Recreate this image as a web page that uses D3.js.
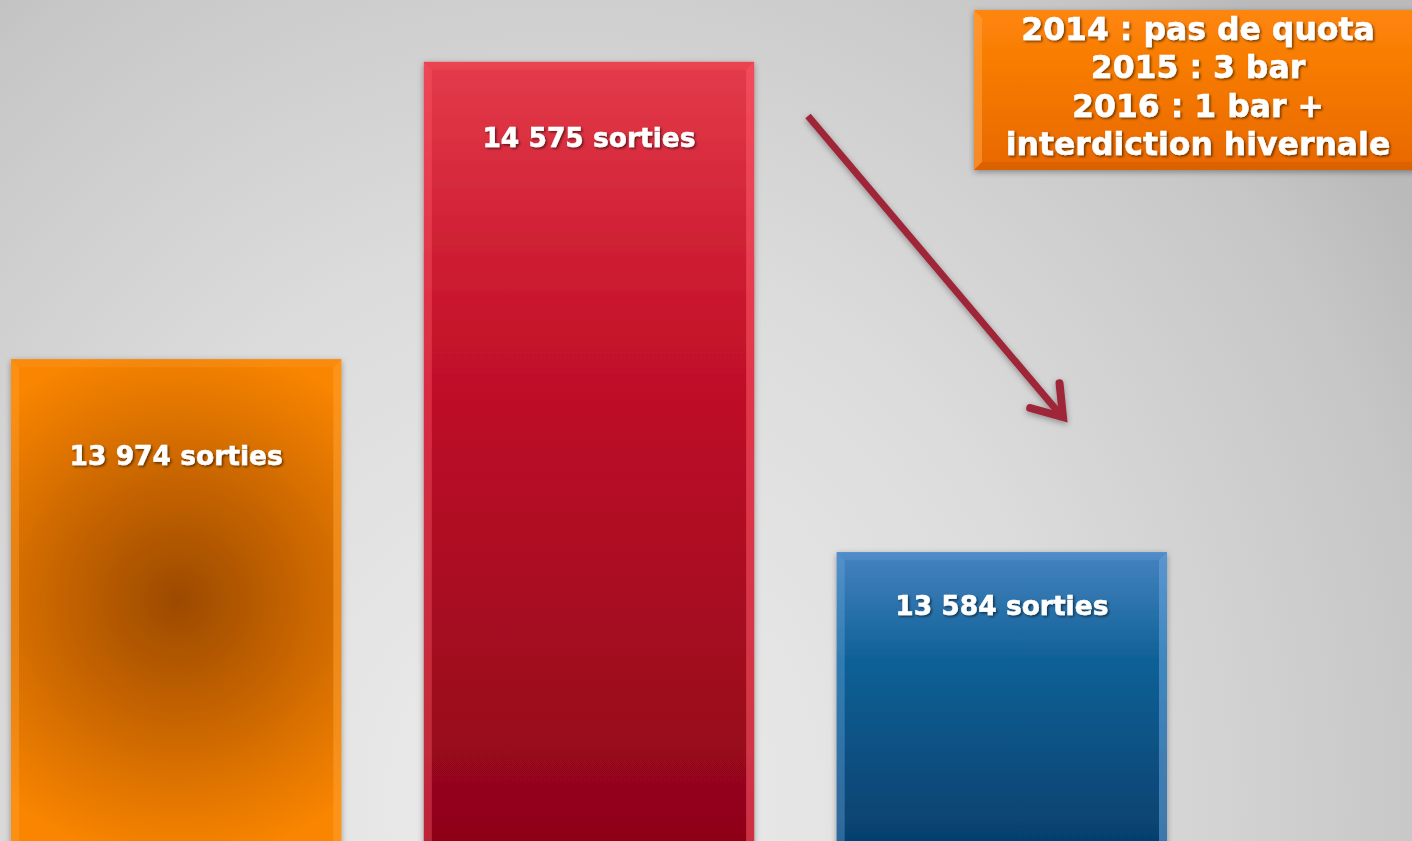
<!DOCTYPE html>
<html>
<head>
<meta charset="utf-8">
<script src="https://cdn.jsdelivr.net/npm/d3@7"></script>
<style>
  html, body { margin: 0; padding: 0; overflow: hidden; }
  #viz { width: 1412px; height: 841px; }
  text { font-family: "DejaVu Sans", Verdana, sans-serif; font-weight: bold; fill: #fff; stroke: #fff; stroke-width: 0.5px; }
</style>
</head>
<body>
<div id="viz"></div>
<script>
// data
const years = ['2014', '2015', '2016'];
const sorties = [13974, 14575, 13584];
const noteLines = ['2014 : pas de quota', '2015 : 3 bar', '2016 : 1 bar +', 'interdiction hivernale'];

const width = 1412, height = 841;
const fmt = v => d3.format(',')(v).replace(',', ' ') + ' sorties';

const svg = d3.select('#viz').append('svg')
  .attr('width', width).attr('height', height)
  .attr('role', 'img')
  .attr('aria-label', 'Nombre de sorties par année');

const defs = svg.append('defs');

// background
const bg = defs.append('radialGradient').attr('id', 'bg')
  .attr('gradientUnits', 'userSpaceOnUse')
  .attr('cx', 560).attr('cy', 800).attr('r', 1000)
  .attr('gradientTransform', 'translate(560,800) scale(1,1.1) translate(-560,-800)');
bg.append('stop').attr('offset', '0%').attr('stop-color', '#ededed');
bg.append('stop').attr('offset', '50%').attr('stop-color', '#dcdcdc');
bg.append('stop').attr('offset', '88%').attr('stop-color', '#c6c6c6');
bg.append('stop').attr('offset', '100%').attr('stop-color', '#bababa');
svg.append('rect').attr('width', width).attr('height', height).attr('fill', 'url(#bg)');

// shadows
const sh = defs.append('filter').attr('id', 'shadow').attr('x', '-10%').attr('y', '-10%').attr('width', '120%').attr('height', '120%');
sh.append('feDropShadow').attr('dx', 0).attr('dy', 2).attr('stdDeviation', 3).attr('flood-color', '#000').attr('flood-opacity', 0.35);
const tsh = defs.append('filter').attr('id', 'tshadow');
tsh.append('feDropShadow').attr('dx', 1.5).attr('dy', 1.5).attr('stdDeviation', 0.8).attr('flood-color', '#000').attr('flood-opacity', 0.55);

// bar gradients
const orangeG = defs.append('radialGradient').attr('id', 'g0')
  .attr('gradientUnits', 'userSpaceOnUse').attr('cx', 178).attr('cy', 600).attr('r', 260);
orangeG.append('stop').attr('offset', '0%').attr('stop-color', '#9c4a00');
orangeG.append('stop').attr('offset', '40%').attr('stop-color', '#c06000');
orangeG.append('stop').attr('offset', '100%').attr('stop-color', '#f98500');

const redG = defs.append('linearGradient').attr('id', 'g1').attr('x1', 0).attr('y1', 0).attr('x2', 0).attr('y2', 1);
redG.append('stop').attr('offset', '0%').attr('stop-color', '#e43b4a');
redG.append('stop').attr('offset', '35%').attr('stop-color', '#c4122a');
redG.append('stop').attr('offset', '100%').attr('stop-color', '#8c0418');

const blueG = defs.append('linearGradient').attr('id', 'g2').attr('x1', 0).attr('y1', 0).attr('x2', 0).attr('y2', 1);
blueG.append('stop').attr('offset', '0%').attr('stop-color', '#4683c0');
blueG.append('stop').attr('offset', '35%').attr('stop-color', '#0f6197');
blueG.append('stop').attr('offset', '100%').attr('stop-color', '#053d6a');

const bevelLight = ['#ffa030', '#ff5a68', '#6aa6de'];

const x = d3.scaleBand().domain(years).range([11, 1167]).paddingInner(0.2).paddingOuter(0);
const y = d3.scaleLinear().domain([13000, 14700]).range([841, 0]);

const labelDy = [106, 85, 63];
const bev = 8;

const bars = svg.append('g').selectAll('g').data(years).join('g');

bars.append('rect')
  .attr('x', d => x(d)).attr('y', (d, i) => y(sorties[i]))
  .attr('width', x.bandwidth()).attr('height', (d, i) => height + 20 - y(sorties[i]))
  .attr('fill', (d, i) => `url(#g${i})`)
  .attr('filter', 'url(#shadow)');

// bevel edges
bars.each(function (d, i) {
  const g = d3.select(this);
  const x0 = x(d), x1 = x(d) + x.bandwidth(), y0 = y(sorties[i]), y1 = height + 20;
  g.append('polygon')
    .attr('points', [[x0, y0], [x0 + bev, y0 + bev], [x0 + bev, y1], [x0, y1]].join(' '))
    .attr('fill', bevelLight[i]).attr('opacity', 0.4);
  g.append('polygon')
    .attr('points', [[x1, y0], [x1 - bev, y0 + bev], [x1 - bev, y1], [x1, y1]].join(' '))
    .attr('fill', bevelLight[i]).attr('opacity', 0.55);
  g.append('polygon')
    .attr('points', [[x0, y0], [x1, y0], [x1 - bev, y0 + bev], [x0 + bev, y0 + bev]].join(' '))
    .attr('fill', bevelLight[i]).attr('opacity', 0.25);
});

bars.append('text')
  .attr('x', d => x(d) + x.bandwidth() / 2)
  .attr('y', (d, i) => y(sorties[i]) + labelDy[i])
  .attr('text-anchor', 'middle')
  .attr('font-size', 26.5)
  .attr('filter', 'url(#tshadow)')
  .text((d, i) => fmt(sorties[i]));

// arrow
const a0 = [808, 116], a1 = [1063, 417];
const ang = Math.atan2(a1[1] - a0[1], a1[0] - a0[0]);
const armLen = 34, spread = 0.6;
const arm = s => [a1[0] - armLen * Math.cos(ang + s), a1[1] - armLen * Math.sin(ang + s)];
const arrow = svg.append('g').attr('filter', 'url(#shadow)')
  .attr('stroke', '#9e2739').attr('stroke-width', 7).attr('fill', 'none');
arrow.append('line').attr('x1', a0[0]).attr('y1', a0[1]).attr('x2', a1[0] - 4).attr('y2', a1[1] - 4);
arrow.append('path')
  .attr('d', d3.line()([arm(spread), a1, arm(-spread)]))
  .attr('stroke-width', 8)
  .attr('stroke-linejoin', 'miter').attr('stroke-linecap', 'round');

// note box
const boxG = defs.append('linearGradient').attr('id', 'box').attr('x1', 0).attr('y1', 0).attr('x2', 0).attr('y2', 1);
boxG.append('stop').attr('offset', '0%').attr('stop-color', '#ff8608');
boxG.append('stop').attr('offset', '100%').attr('stop-color', '#e86800');
const note = svg.append('g');
note.append('rect').attr('x', 974).attr('y', 10).attr('width', 450).attr('height', 160)
  .attr('fill', 'url(#box)').attr('filter', 'url(#shadow)');
note.append('polygon').attr('points', '974,10 982,18 982,162 974,170').attr('fill', '#ffa040').attr('opacity', 0.6);
note.append('polygon').attr('points', '974,170 982,162 1412,162 1412,170').attr('fill', '#c85800').attr('opacity', 0.4);
note.selectAll('text').data(noteLines).join('text')
  .attr('x', 1198).attr('y', (d, i) => 40 + i * 38.3)
  .attr('text-anchor', 'middle').attr('font-size', 31.5)
  .attr('filter', 'url(#tshadow)')
  .text(d => d);
</script>
</body>
</html>
